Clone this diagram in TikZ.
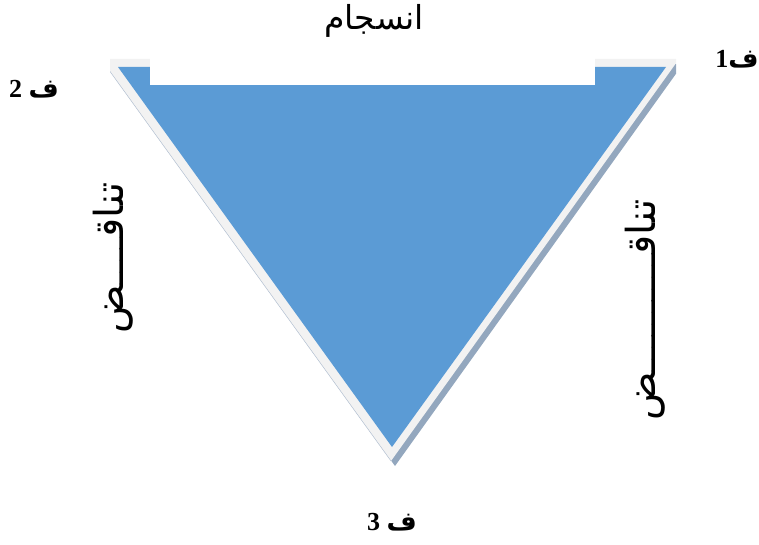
\documentclass[tikz,border=0pt]{standalone}
\usepackage{fontspec}
\setmainfont{Liberation Serif}
\newfontfamily\arabicfont[Script=Arabic]{DejaVu Sans}
\TeXXeTstate=1
\definecolor{triblue}{HTML}{5B9BD5}
\definecolor{bevelc}{HTML}{F2F2F2}
\definecolor{shadowc}{HTML}{93A7BE}
\tikzset{
  lbl/.style={inner sep=0pt, font=\bfseries\fontsize{26}{30}\selectfont},
  sidetxt/.style={inner sep=0pt, rotate=90, font=\arabicfont\fontsize{40}{46}\selectfont},
}
\begin{document}
\begin{tikzpicture}[x=1pt,y=-1pt]
\useasboundingbox (0,0) rectangle (759,545);
\begin{scope}
\clip (110,50) rectangle (676,480);
\fill[shadowc] (105,64) -- (683,64) -- (395,466) -- cycle;
\fill[bevelc] (101,59) -- (679,59) -- (391,461) -- cycle;
\draw[shadowc!70, line width=0.5pt] (101,59) -- (391,461);
\end{scope}
\fill[triblue] (118,67) -- (666,67) -- (392,447) -- cycle;
\fill[white] (150,55) rectangle (595,85);
\node[inner sep=0pt, font=\arabicfont\fontsize{33}{38}\selectfont] (top) at (374,21) {\beginR انسجام\endR};
\node[lbl] (f2) at (34,89) {\beginR{\arabicfont ف} 2\endR};
\node[lbl] (f1) at (737,59) {\beginR{\arabicfont ف}1\endR};
\node[lbl] (f3) at (392,522) {\beginR{\arabicfont ف} 3\endR};
\node[sidetxt] (left) at (113,258) {\beginR تناقــــض\endR};
\node[sidetxt] (right) at (645,310) {\beginR تناقــــــــــض\endR};
\end{tikzpicture}
\end{document}
